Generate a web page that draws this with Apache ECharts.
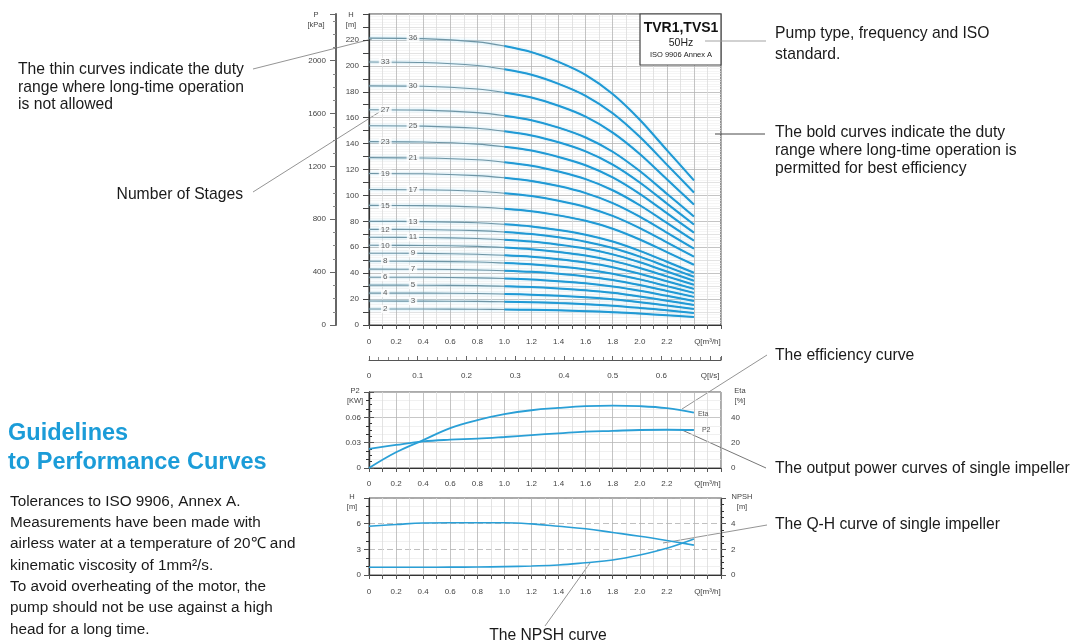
<!DOCTYPE html>
<html><head><meta charset="utf-8">
<script src="https://cdn.jsdelivr.net/npm/echarts/dist/echarts.min.js"></script>
<style>html,body{margin:0;padding:0;background:#fff}#c{width:1073px;height:644px}</style>
</head><body><div id="c"></div>
<script>
// ---- data ----
// main chart: flow points of the stage curves [m³/h]
const stageQ = [0,0.4,0.8,1.0,1.2,1.4,1.6,1.8,2.0,2.2,2.4];
const stages = [2,3,4,5,6,7,8,9,10,11,12,13,15,17,19,21,23,25,27,30,33,36];
// head [m] of each stage curve at stageQ (one row per entry of stages)
const stageHeads = [
 [12.3,12.3,12.1,12.0,11.7,11.3,10.7,9.9,8.8,7.5,6.2],
 [18.5,18.4,18.2,17.9,17.6,16.9,16.1,14.9,13.2,11.3,9.3],
 [24.6,24.6,24.3,23.9,23.4,22.6,21.4,19.8,17.6,15.0,12.4],
 [30.8,30.7,30.4,29.9,29.3,28.2,26.8,24.8,22.0,18.8,15.5],
 [36.9,36.8,36.4,35.9,35.1,33.8,32.2,29.7,26.4,22.5,18.6],
 [43.1,43.0,42.5,41.9,41.0,39.5,37.5,34.7,30.8,26.3,21.7],
 [49.2,49.1,48.6,47.8,46.8,45.1,42.9,39.6,35.2,30.0,24.8],
 [55.4,55.3,54.6,53.8,52.7,50.8,48.2,44.6,39.6,33.8,27.9],
 [61.5,61.4,60.7,59.8,58.5,56.4,53.6,49.5,44.0,37.5,31.0],
 [67.7,67.5,66.8,65.8,64.4,62.0,59.0,54.5,48.4,41.3,34.1],
 [73.8,73.7,72.8,71.8,70.2,67.7,64.3,59.4,52.8,45.0,37.2],
 [80.0,79.8,78.9,77.7,76.1,73.3,69.7,64.4,57.2,48.8,40.3],
 [92.3,92.1,91.1,89.7,87.8,84.6,80.4,74.3,66.0,56.3,46.5],
 [104.6,104.4,103.2,101.7,99.5,95.9,91.1,84.2,74.8,63.8,52.7],
 [116.9,116.7,115.3,113.6,111.2,107.2,101.8,94.1,83.6,71.3,58.9],
 [129.2,128.9,127.5,125.6,122.9,118.4,112.6,104.0,92.4,78.8,65.1],
 [141.5,141.2,139.6,137.5,134.6,129.7,123.3,113.9,101.2,86.3,71.3],
 [153.8,153.5,151.8,149.5,146.3,141.0,134.0,123.8,110.0,93.8,77.5],
 [166.1,165.8,163.9,161.5,158.0,152.3,144.7,133.7,118.8,101.3,83.7],
 [184.5,184.2,182.1,179.4,175.5,169.2,160.8,148.5,132.0,112.5,93.0],
 [203.0,202.6,200.3,197.3,193.1,186.1,176.9,163.4,145.2,123.8,102.3],
 [221.4,221.0,218.5,215.3,210.6,203.0,193.0,178.2,158.4,135.0,111.6]];
// single impeller panels
const flowQ = [0,0.2,0.4,0.6,0.8,1.0,1.2,1.4,1.6,1.8,2.0,2.2,2.4];
const etaPct = [0,12.4,22,31.5,37.8,42.5,45.6,47.4,48.8,49.3,48.8,47.2,43.8];
const p2KW = [0.0226,0.0273,0.0315,0.0335,0.0347,0.0367,0.039,0.041,0.043,0.044,0.045,0.0453,0.045];
const qhSingle = [5.7,5.9,6.08,6.1,6.1,6.1,5.97,5.7,5.4,4.97,4.53,4.03,3.49];
const npshM = [0.6,0.6,0.6,0.61,0.62,0.65,0.7,0.78,0.96,1.17,1.56,2.08,2.8];

const FONT = 'Liberation Sans, Arial, sans-serif';
const chart = echarts.init(document.getElementById('c'), null, {renderer:'canvas'});

function qLabel(v){const r=Math.round(v*10); if(r===25) return 'Q[m³/h]'; if(r%2===0&&r<=22) return r===0?'0':(r/10).toFixed(1); return '';}
const lab = {fontSize:8, color:'#444', fontFamily:FONT};
function xAx(grid, margin){return {type:'value', gridIndex:grid, min:0, max:2.6, interval:0.1,
  axisLine:{show:true,onZero:false,lineStyle:{color:'#333',width:1.2}},
  axisTick:{show:true,length:4,lineStyle:{color:'#555'}},
  axisLabel:Object.assign({formatter:qLabel, margin:margin, showMaxLabel:true},lab),
  splitLine:{show:true,lineStyle:{color:['#b5b5b5','#dcdcdc'],width:0.8}}};}

const grids=[
 {left:369,top:14,width:352,height:311,show:true,borderColor:'#444',borderWidth:1.2,outerBoundsMode:'none'},
 {left:369,top:392,width:352,height:76,show:true,borderColor:'#555',borderWidth:1,outerBoundsMode:'none'},
 {left:369,top:498,width:352,height:77,show:true,borderColor:'#555',borderWidth:1,outerBoundsMode:'none'}];

const xAxes=[xAx(0,13),
 {type:'value',gridIndex:1,position:'top',offset:32,min:0,max:2.6/3.6,interval:0.1,
  axisLine:{show:true,onZero:false,lineStyle:{color:'#555',width:1}},axisTick:{show:true,length:4,lineStyle:{color:'#666'}},
  minorTick:{show:true,splitNumber:5,length:3,lineStyle:{color:'#888'}},
  axisLabel:Object.assign({inside:true,margin:12,formatter:v=>{const r=Math.round(v*100);if(Math.abs(v*100-r)>0.01)return '';if(r===70)return 'Q[l/s]';return r===0?'0':(r/100).toString();}},lab),
  splitLine:{show:false}},
 xAx(1,12), xAx(2,13)];

function yAx(o){return Object.assign({type:'value',min:0,axisLine:{show:true,lineStyle:{color:'#333',width:1.2}},
  axisTick:{show:true,length:5,lineStyle:{color:'#555'}},splitLine:{show:false}},o);}
const yAxes=[
 yAx({gridIndex:0,max:240,interval:10,axisLabel:Object.assign({margin:10,formatter:v=>(v%20===0&&v<=220)?String(v):''},lab),
   axisTick:{show:true,length:6,lineStyle:{color:'#444'}},
   splitLine:{show:true,lineStyle:{color:['#b5b5b5','#dcdcdc'],width:0.8}},
   minorSplitLine:{show:true,lineStyle:{color:'#efefef',width:0.6}},minorTick:{show:false},splitNumber:2}),
 yAx({gridIndex:0,position:'left',offset:33,max:240/0.10197,interval:400,
   axisLine:{show:true,lineStyle:{color:'#666',width:2}},
   axisTick:{show:true,length:6,lineStyle:{color:'#666'}},
   minorTick:{show:true,splitNumber:4,length:3,lineStyle:{color:'#888'}},
   axisLabel:Object.assign({margin:10,formatter:v=>(v<=2000&&v%400===0)?String(v):''},lab)}),
 yAx({gridIndex:1,max:0.09,interval:0.03,axisLabel:Object.assign({margin:8,formatter:v=>v>0.085?'':(v===0?'0':v.toFixed(2))},lab),
   minorTick:{show:true,splitNumber:3,length:3},
   splitLine:{show:true,lineStyle:{color:'#b9b9b9',width:0.8}},minorSplitLine:{show:true,lineStyle:{color:'#e6e6e6',width:0.6}}}),
 yAx({gridIndex:1,position:'right',max:60,interval:20,axisLabel:Object.assign({margin:10,formatter:v=>v>=60?'':String(v)},lab),
   minorTick:{show:true,splitNumber:4,length:3}}),
 yAx({gridIndex:2,max:9,interval:3,axisLabel:Object.assign({margin:8,formatter:v=>v>=9?'':String(v)},lab),
   minorTick:{show:true,splitNumber:3,length:3},
   splitLine:{show:true,lineStyle:{color:'#b0b0b0',width:0.8,type:[6,3]}},minorSplitLine:{show:true,lineStyle:{color:'#e6e6e6',width:0.6}}}),
 yAx({gridIndex:2,position:'right',max:6,interval:2,axisLabel:Object.assign({margin:10,formatter:v=>v>=6?'':String(v)},lab),
   minorTick:{show:true,splitNumber:4,length:3}})];

const series=[];
const BOLD_FROM=1.0;
stages.forEach((n,i)=>{
  const pts=stageQ.map((q,j)=>[q,stageHeads[i][j]]);
  series.push({type:'line',name:'thin'+n,xAxisIndex:0,yAxisIndex:0,data:pts,smooth:0.3,symbol:'none',silent:true,
    lineStyle:{color:'#6f95a5',width:1.1,shadowColor:'rgba(120,205,240,0.7)',shadowBlur:3},z:3});
  series.push({type:'line',name:'bold'+n,xAxisIndex:0,yAxisIndex:0,data:pts.filter(p=>p[0]>=BOLD_FROM-1e-9),smooth:0.3,symbol:'none',silent:true,
    lineStyle:{color:'#1f9ad6',width:2},z:4});
});
series.push({type:'scatter',name:'stageLabels',xAxisIndex:0,yAxisIndex:0,symbolSize:1,silent:true,z:6,
  itemStyle:{color:'transparent'},
  data:stages.map((n,i)=>({value:[i%2===0?0.12:0.325,stageHeads[i][0],n]})),
  label:{show:true,position:'inside',formatter:p=>String(p.value[2]),fontSize:8,color:'#333',fontFamily:FONT,backgroundColor:'#fff',padding:[0,2]}});
series.push({type:'line',name:'Eta',xAxisIndex:2,yAxisIndex:3,data:flowQ.map((q,j)=>[q,etaPct[j]]),smooth:0.4,symbol:'none',
  lineStyle:{color:'#2a9fd6',width:1.8},endLabel:{show:true,formatter:'Eta',fontSize:7,color:'#555',distance:4,offset:[0,2]}});
series.push({type:'line',name:'P2',xAxisIndex:2,yAxisIndex:2,data:flowQ.map((q,j)=>[q,p2KW[j]]),smooth:0.4,symbol:'none',
  lineStyle:{color:'#2a9fd6',width:1.8},endLabel:{show:true,formatter:'P2',fontSize:7,color:'#555',distance:8}});
series.push({type:'line',name:'QH',xAxisIndex:3,yAxisIndex:4,smooth:0.4,symbol:'none',
  data:flowQ.map((q,j)=>j===2?{value:[q,qhSingle[j]],label:{show:true,position:'top',distance:1,formatter:'QH2900rpm',fontSize:7,color:'#444'}}:[q,qhSingle[j]]),
  lineStyle:{color:'#2a9fd6',width:1.6}});
series.push({type:'line',name:'NPSH',xAxisIndex:3,yAxisIndex:5,smooth:0.4,symbol:'none',
  data:flowQ.map((q,j)=>j===1?{value:[q,npshM[j]],label:{show:true,position:'top',distance:1,offset:[14,0],formatter:'NPSH',fontSize:7,color:'#444'}}:[q,npshM[j]]),
  lineStyle:{color:'#2a9fd6',width:1.6}});

const T=(x,y,text,o)=>({type:'text',x:x,y:y,silent:true,style:Object.assign({text:text,fill:'#1a1a1a',fontSize:15.7,fontFamily:FONT,lineHeight:18,verticalAlign:'top',align:'left'},o||{})});
const L=(x1,y1,x2,y2,c,w)=>({type:'line',silent:true,shape:{x1:x1,y1:y1,x2:x2,y2:y2},style:{stroke:c||'#888',lineWidth:w||0.9}});
const small=(x,y,t,al)=>T(x,y,t,{fontSize:7.5,fill:'#444',lineHeight:10,align:al||'center'});
const graphic=[
  T(18,61,'The thin curves indicate the duty\nrange where long-time operation\nis not allowed',{lineHeight:17.5}),
  L(253,69,372,39,'#888'),
  T(243,186,'Number of Stages',{align:'right'}),
  L(253,192,381,111,'#888'),
  T(8,419,'Guidelines\nto Performance Curves',{fontSize:23.5,fontWeight:'bold',fill:'#1b9cd8',lineHeight:29}),
  T(10,491,'Tolerances to ISO 9906, Annex A.\nMeasurements have been made with\nairless water at a temperature of 20℃ and\nkinematic viscosity of 1mm²/s.\nTo avoid overheating of the motor, the\npump should not be use against a high\nhead for a long time.',{fontSize:15.3,lineHeight:21.3}),
  {type:'rect',shape:{x:640,y:14,width:81,height:51},style:{fill:'#fff',stroke:'#444',lineWidth:1.2},z:10},
  {type:'text',x:681,y:28,z:11,style:{text:'TVR1,TVS1',fontSize:14,fontWeight:'bold',fill:'#111',fontFamily:FONT,align:'center',verticalAlign:'middle'}},
  {type:'text',x:681,y:43,z:11,style:{text:'50Hz',fontSize:10.5,fill:'#222',fontFamily:FONT,align:'center',verticalAlign:'middle'}},
  {type:'text',x:681,y:55,z:11,style:{text:'ISO 9906 Annex A',fontSize:7.5,fill:'#222',fontFamily:FONT,align:'center',verticalAlign:'middle'}},
  Object.assign(L(705,41,766,41,'#999'),{z:12}),
  T(775,23.5,'Pump type, frequency and ISO\nstandard.',{lineHeight:21}),
  Object.assign(L(715,134,765,134,'#333'),{z:12}),
  T(775,124,'The bold curves indicate the duty\nrange where long-time operation is\npermitted for best efficiency',{lineHeight:18}),
  L(682,409,767,355,'#888'),
  T(775,347,'The efficiency curve'),
  L(682,430,766,468,'#666'),
  T(775,460,'The output power curves of single impeller'),
  L(663,543,767,525,'#888'),
  T(775,516,'The Q-H curve of single impeller'),
  L(545,626,590,563,'#888'),
  T(548,627,'The NPSH curve',{align:'center'}),
  small(316,10,'P\n[kPa]'), small(351,10,'H\n[m]'),
  small(355,386,'P2\n[KW]'), small(740,386,'Eta\n[%]'),
  small(352,492,'H\n[m]'), small(742,492,'NPSH\n[m]')
];

chart.setOption({animation:false,backgroundColor:'#fff',grid:grids,xAxis:xAxes,yAxis:yAxes,series:series,graphic:graphic});
</script></body></html>
